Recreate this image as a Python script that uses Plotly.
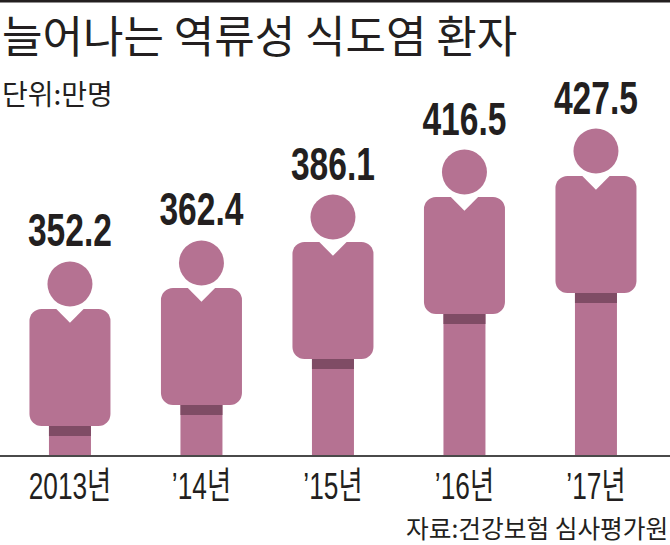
import plotly.graph_objects as go

categories = ["2013", "'14", "'15", "'16", "'17"]
tick_years = ["2013", "’14", "’15", "’16", "’17"]
values = [352.2, 362.4, 386.1, 416.5, 427.5]  # printed labels
# Icon heights as actually drawn in the source graphic (it is not exactly to scale)
icon_tops = [352.2, 364.1, 390.1, 415.6, 427.5]

title = "늘어나는 역류성 식도염 환자"
unit = "단위:만명"
source = "자료:건강보험 심사평가원"

W, H = 670, 545
BASE_PX = 455
px_per_unit = 1.766
y_min = 352.2 - 193 / px_per_unit
y_max = y_min + BASE_PX / px_per_unit
u = 1 / px_per_unit  # data units per pixel

MAIN = "#B57292"
DARK = "#7F4C65"
INK = "#231F20"
LATIN = "Liberation Sans, Noto Sans CJK KR"
KR = "Noto Sans CJK KR"

head_c = [t - 22 * u for t in icon_tops]
torso_top = [t - 47 * u for t in icon_tops]
torso_bot = [t - 164 * u for t in icon_tops]
band_bot = [b - 10 * u for b in torso_bot]

fig = go.Figure()
fig.add_bar(x=categories, y=[b - y_min for b in torso_bot], base=[y_min] * 5,
            width=42 / 131.5, marker=dict(color=MAIN, line_width=0))
fig.add_bar(x=categories, y=[a - b for a, b in zip(torso_bot, band_bot)], base=band_bot,
            width=42 / 131.5, marker=dict(color=DARK, line_width=0))
fig.add_bar(x=categories, y=[a - b for a, b in zip(torso_top, torso_bot)], base=torso_bot,
            width=81 / 131.5, marker=dict(color=MAIN, line_width=0, cornerradius=12))
# collar notch, head, value labels
fig.add_scatter(x=categories, y=torso_top, mode="markers",
                marker=dict(symbol="diamond", size=21, color="white", line_width=0))
fig.add_scatter(x=categories, y=head_c, mode="markers",
                marker=dict(symbol="circle", size=45, color=MAIN, line_width=0))
fig.add_scatter(x=categories, y=[t + 4 * u for t in icon_tops], mode="text",
                text=[f"{v:.1f}" for v in values], textposition="top center",
                textfont=dict(family=LATIN, size=46, color=INK, weight="bold"))

ticktext = [f"{y}년" for y in tick_years]
fig.update_layout(
    width=W, height=H, showlegend=False, barmode="overlay",
    margin=dict(l=0, r=0, t=0, b=H - BASE_PX),
    paper_bgcolor="white", plot_bgcolor="white",
    xaxis=dict(type="category", range=[-0.532, 4.563], tickmode="array",
               tickvals=categories, ticktext=ticktext, showgrid=False,
               showline=True, linecolor="#4a4a4a", linewidth=2,
               ticks="", ticklabelstandoff=-2, tickfont=dict(family=LATIN, size=37, color=INK)),
    yaxis=dict(range=[y_min, y_max], visible=False),
    shapes=[dict(type="line", xref="paper", yref="paper", x0=0, x1=1, y0=0.998, y1=0.998,
                 line=dict(color=INK, width=3))],
    annotations=[
        dict(text=title, x=0, y=1 - 34 / BASE_PX, xref="paper", yref="paper", xanchor="left",
             yanchor="middle", showarrow=False, font=dict(family=KR, size=44, color=INK)),
        dict(text=unit, x=0, y=1 - 93 / BASE_PX, xref="paper", yref="paper", xanchor="left",
             yanchor="middle", showarrow=False, font=dict(family=KR, size=28, color=INK)),
        dict(text=source, x=1.0, y=1 - 527 / BASE_PX, xref="paper", yref="paper", xanchor="right",
             yanchor="middle", showarrow=False, font=dict(family=KR, size=24.7, color=INK)),
    ],
)
post = """
document.body.style.margin = '0';
function squeeze(sel, sx) {
  document.querySelectorAll(sel).forEach(function (el) {
    var x = el.getAttribute('x') || 0, y = el.getAttribute('y') || 0;
    var old = el.getAttribute('transform') || '';
    el.setAttribute('transform', old + ' translate(' + x + ' ' + y + ') scale(' + sx + ' 1) translate(' + (-x) + ' ' + (-y) + ')');
  });
}
squeeze('.textpoint text', 0.73);
squeeze('.xtick text', 0.71);
"""
fig.write_html("out.html", post_script=post, config=dict(displayModeBar=False))
